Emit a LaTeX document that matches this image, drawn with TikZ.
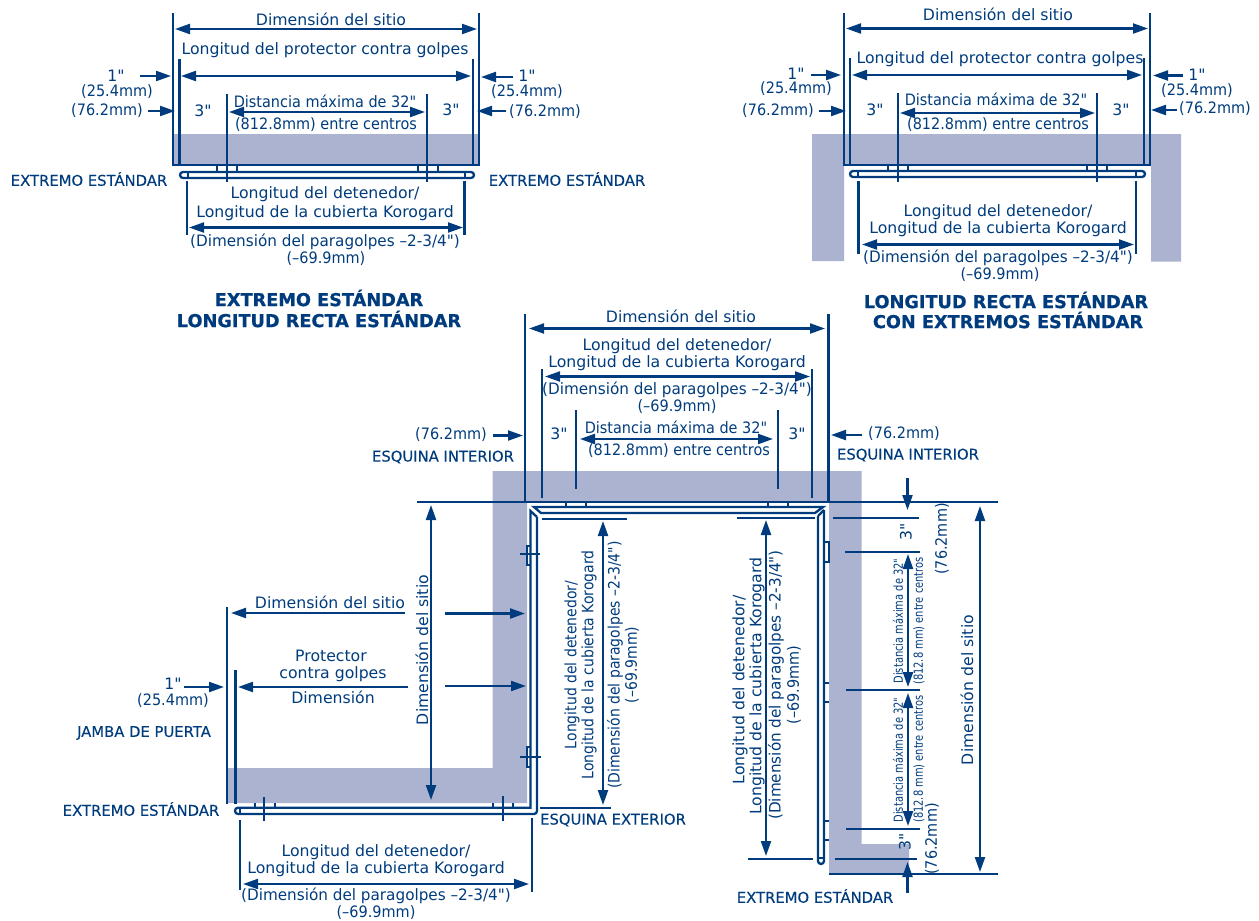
\documentclass[tikz,border=0pt]{standalone}
\usepackage{fontspec}
\newfontfamily\lf{DejaVu Sans}[BoldFeatures={FakeBold=0.8}]
\newfontfamily\cf{DejaVu Sans}[FakeBold=0.25]
\usetikzlibrary{arrows.meta}
\definecolor{navy}{HTML}{003C7D}
\definecolor{band}{HTML}{ABB3D0}
\newcounter{tn}
\tikzset{
  lab/.style={text=navy,inner sep=0pt,font=\lf\fontsize{15.7}{15.7}\selectfont,anchor=center},
  num/.style={xscale=.92},
  wide/.style={xscale=.97},
  nar/.style={xscale=.89},
  caps/.style={lab,font=\cf\fontsize{14.8}{14.8}\selectfont},
  ttl/.style={lab,font=\lf\fontsize{17.7}{17.7}\selectfont\bfseries},
  tiny/.style={lab,font=\lf\fontsize{12.5}{12.5}\selectfont,rotate=90,xscale=.79},
  vt/.style={lab,rotate=90},
  thin line/.style={draw=navy,line width=1.6pt},
  ln/.style={draw=navy,line width=2.3pt},
  dim/.style={draw=navy,line width=2.2pt,{Triangle[length=15pt,width=10pt]}-{Triangle[length=15pt,width=10pt]}},
  pt/.style={draw=navy,line width=2.2pt,-{Triangle[length=15pt,width=10pt]}},
}
\newcommand\tx[4][]{\stepcounter{tn}\node[lab,#1] (t\thetn) at (#2,#3) {#4};}
\begin{document}
\begin{tikzpicture}[x=1pt,y=-1pt]
\useasboundingbox (0,0) rectangle (1259,921);
% ---------- bands
\fill[band] (173,134) rectangle (479,165);
\fill[band] (812,134) -- (1181,134) -- (1181,261.5) -- (1151,261.5) -- (1151,165) -- (844,165) -- (844,261) -- (812,261) -- cycle;
\fill[band] (492.5,471) -- (861.5,471) -- (861.5,844) -- (909,844) -- (909,873) -- (829,873) -- (829,502) -- (527,502) -- (527,803) -- (227,803) -- (227,768) -- (492.5,768) -- cycle;
% ---------- diagram 1
\draw[ln] (173,13) -- (173,165) -- (479,165) -- (479,13);
\draw[ln] (179.5,59) -- (179.5,165) (473,59) -- (473,165);
\draw[ln] (227,94) -- (227,182) (427,94) -- (427,182);
\draw[dim] (175,29) -- (477,29);
\draw[dim] (181,76) -- (471,76);
\draw[dim] (229,112) -- (425,112);
\draw[pt] (140,76) -- (171,76);
\draw[pt] (513,77) -- (481,77);
\draw[pt] (148,111) -- (175,111);
\draw[pt] (506,111) -- (477,111);
\draw[ln,rounded corners=3pt] (180,172) rectangle (474,178);
\draw[thin line] (188,172) -- (188,178) (465,172) -- (465,178);
\draw[thin line] (217,172) -- (217,166) (237,172) -- (237,166) (418,172) -- (418,166) (438,172) -- (438,166);
\draw[ln] (187,181) -- (187,235) (464.5,181) -- (464.5,235);
\draw[dim] (189,227.5) -- (463,227.5);
\tx{331}{19}{Dimensión del sitio}
\tx{325}{50}{Longitud del protector contra golpes}
\tx{116}{76}{1"}
\tx[num]{117}{92}{(25.4mm)}
\tx[num]{107}{111}{(76.2mm)}
\tx{203}{111}{3"}
\tx{451}{110}{3"}
\tx{527}{76}{1"}
\tx[num]{527}{92}{(25.4mm)}
\tx[num]{545}{112}{(76.2mm)}
\tx[num]{325}{101}{Distancia máxima de 32"}
\tx[num]{326}{125}{(812.8mm) entre centros}
\tx[caps]{89}{179}{EXTREMO ESTÁNDAR}
\tx[caps]{567}{179}{EXTREMO ESTÁNDAR}
\tx{325}{194}{Longitud del detenedor/}
\tx{325}{213}{Longitud de la cubierta Korogard}
\tx[wide]{325}{242}{(Dimensión del paragolpes –2-3/4")}
\tx[num]{326}{259}{(–69.9mm)}
\tx[ttl]{319}{298}{EXTREMO ESTÁNDAR}
\tx[ttl]{319}{319}{LONGITUD RECTA ESTÁNDAR}
% ---------- diagram 2
\draw[ln] (844,13) -- (844,165) -- (1150,165) -- (1150,13);
\draw[ln] (850,58) -- (850,165) (1144,58) -- (1144,165);
\draw[ln] (898,93) -- (898,182) (1097,93) -- (1097,182);
\draw[dim] (846,28.5) -- (1148,28.5);
\draw[dim] (852,75) -- (1142,75);
\draw[dim] (900,113) -- (1095,113);
\draw[pt] (811,75) -- (841,75);
\draw[pt] (1183,75.5) -- (1153,75.5);
\draw[pt] (819,111) -- (846,111);
\draw[pt] (1177,110) -- (1151,110);
\draw[ln,rounded corners=3pt] (850,171) rectangle (1145,177);
\draw[thin line] (858,171) -- (858,177) (1136,171) -- (1136,177);
\draw[thin line] (888,171) -- (888,166) (908,171) -- (908,166) (1087,171) -- (1087,166) (1107,171) -- (1107,166);
\draw[ln] (858.5,181) -- (858.5,254) (1136,181) -- (1136,254);
\draw[dim] (862,244.5) -- (1134,244.5);
\tx{998}{14}{Dimensión del sitio}
\tx{1000}{59}{Longitud del protector contra golpes}
\tx{796}{74}{1"}
\tx[num]{796}{89}{(25.4mm)}
\tx[num]{778}{111}{(76.2mm)}
\tx{875}{110}{3"}
\tx{1121}{110}{3"}
\tx{1197}{75}{1"}
\tx[num]{1197}{91}{(25.4mm)}
\tx[num]{1215}{109}{(76.2mm)}
\tx[num]{996}{99}{Distancia máxima de 32"}
\tx[num]{998}{125}{(812.8mm) entre centros}
\tx{998}{212}{Longitud del detenedor/}
\tx{998}{229}{Longitud de la cubierta Korogard}
\tx[wide]{998}{258}{(Dimensión del paragolpes –2-3/4")}
\tx[num]{1000}{275}{(–69.9mm)}
\tx[ttl]{1006}{300}{LONGITUD RECTA ESTÁNDAR}
\tx[ttl]{1008}{320}{CON EXTREMOS ESTÁNDAR}
% ---------- diagram 3 top
\draw[ln] (417,502) -- (998,502);
\draw[ln] (829,874) -- (998,874);
\draw[ln] (525,314) -- (525,502) (828.5,314) -- (828.5,502);
\draw[ln] (542,369) -- (542,498) (812,369) -- (812,498);
\draw[ln] (576,410) -- (576,489) (778,410) -- (778,489);
\draw[dim] (529,328.5) -- (825,328.5);
\draw[dim] (545,376.5) -- (810,376.5);
\draw[dim] (580,439) -- (773,439);
\draw[pt] (493,435.5) -- (523,435.5);
\draw[pt] (862,435) -- (831,435);
\tx{681}{316}{Dimensión del sitio}
\tx{677}{346}{Longitud del detenedor/}
\tx{677}{363}{Longitud de la cubierta Korogard}
\tx[wide]{677}{390}{(Dimensión del paragolpes –2-3/4")}
\tx[num]{677}{407}{(–69.9mm)}
\tx{559}{434}{3"}
\tx{797}{434}{3"}
\tx[num]{676}{427}{Distancia máxima de 32"}
\tx[num]{679}{451}{(812.8mm) entre centros}
\tx[num]{451}{435}{(76.2mm)}
\tx[num]{904}{434}{(76.2mm)}
\tx[caps]{443}{457}{ESQUINA INTERIOR}
\tx[caps]{908}{455}{ESQUINA INTERIOR}
% stoppers top
\draw[ln,line join=miter] (534,507) -- (823,507) -- (815,513) -- (541,513) -- cycle;
\draw[thin line] (566,502) -- (566,507) (586,502) -- (586,507) (768,502) -- (768,507) (788,502) -- (788,507);
% left vertical + bottom horizontal stopper
\draw[ln,rounded corners=3pt] (537,517) -- (537,814) -- (235,814) -- (235,807.7) -- (530.5,807.7);
\draw[ln] (530.5,808.9) -- (530.5,511) -- (537,517);
\draw[thin line] (240,808) -- (240,814);
\draw[thin line] (531,546) -- (527,546) -- (527,565) -- (531,565) (531,747) -- (527,747) -- (527,767) -- (531,767);
\draw[ln] (520,554) -- (540,554) (520,757) -- (541,757);
\draw[thin line] (255,803) -- (255,808) (275,803) -- (275,808) (493,803) -- (493,808) (513,803) -- (513,808);
\draw[ln] (264,797) -- (264,821) (503,796) -- (503,821);
% right vertical stopper
\draw[ln,rounded corners=3pt] (818,516) -- (818,864) -- (824,864) -- (824,510);
\draw[ln] (824,510) -- (818,516);
\draw[thin line] (818,858) -- (824,858);
\draw[thin line] (824,542) -- (829,542) -- (829,562) -- (824,562);
\draw[thin line] (824,683) -- (829,683) (824,702) -- (829,702) (824,821) -- (829,821) (824,840) -- (829,840);
% ---------- left dims
\draw[ln] (227,607) -- (227,804);
\draw[ln] (235.5,670) -- (235.5,804);
\draw[ln] (240,820) -- (240,890) (532,818) -- (532,892);
\draw[dim] (243,884) -- (529,884);
\draw[pt] (405,613) -- (231,613);
\draw[pt] (445,613.5) -- (525,613.5);
\draw[pt] (408,687) -- (238,687);
\draw[pt] (445,686) -- (526,686);
\draw[pt] (184,687) -- (224,687);
\draw[dim] (431,505) -- (431,800);
\tx{330}{602}{Dimensión del sitio}
\tx{331}{656}{Protector}
\tx{333}{674}{contra golpes}
\tx{333}{697}{Dimensión}
\tx{173}{684}{1"}
\tx[num]{173}{701}{(25.4mm)}
\tx[caps]{144}{733}{JAMBA DE PUERTA}
\tx[caps]{141}{809}{EXTREMO ESTÁNDAR}
\tx[caps]{613}{820}{ESQUINA EXTERIOR}
\tx{376}{852}{Longitud del detenedor/}
\tx{376}{869}{Longitud de la cubierta Korogard}
\tx[wide]{376}{896}{(Dimensión del paragolpes –2-3/4")}
\tx[num]{376}{913}{(–69.9mm)}
\tx[vt]{422}{650}{Dimensión del sitio}
% ---------- inner verticals
\draw[ln] (542,519) -- (627,519) (540,808) -- (611,808);
\draw[dim] (603,521) -- (603,805);
\tx[vt,nar]{572}{665}{Longitud del detenedor/}
\tx[vt,nar]{589}{665}{Longitud de la cubierta Korogard}
\tx[vt,nar]{615}{665}{(Dimensión del paragolpes –2-3/4")}
\tx[vt,nar]{632}{665}{(–69.9mm)}
\draw[ln] (737,518.3) -- (815,518.3) (748,859) -- (813,859);
\draw[dim] (766,520) -- (766,856);
\tx[vt]{740}{690}{Longitud del detenedor/}
\tx[vt]{757}{686}{Longitud de la cubierta Korogard}
\tx[vt,wide]{776}{685}{(Dimensión del paragolpes –2-3/4")}
\tx[vt,num]{794}{685}{(–69.9mm)}
% ---------- right dims
\draw[ln] (833,518) -- (919,518) (845,551.7) -- (919.5,551.7) (846,690) -- (919.5,690) (846,829) -- (919.5,829) (835,859) -- (917,859);
\draw[pt] (907.5,478) -- (907.5,510);
\draw[pt] (907.5,893) -- (907.5,862);
\draw[dim] (908,554) -- (908,687);
\draw[dim] (908,693) -- (908,826);
\draw[dim] (980,506) -- (980,872);
\tx[vt]{967}{690}{Dimensión del sitio}
\tx[vt]{906}{532}{3"}
\tx[vt]{905}{842}{3"}
\tx[vt,num]{942}{539}{(76.2mm)}
\tx[vt,num]{932}{839}{(76.2mm)}
\tx[tiny]{898}{621}{Distancia máxima de 32"}
\tx[tiny]{919}{621}{(812.8 mm) entre centros}
\tx[tiny]{898}{760}{Distancia máxima de 32"}
\tx[tiny]{919}{759}{(812.8 mm) entre centros}
\tx[caps]{815}{896}{EXTREMO ESTÁNDAR}
\end{tikzpicture}
\end{document}
